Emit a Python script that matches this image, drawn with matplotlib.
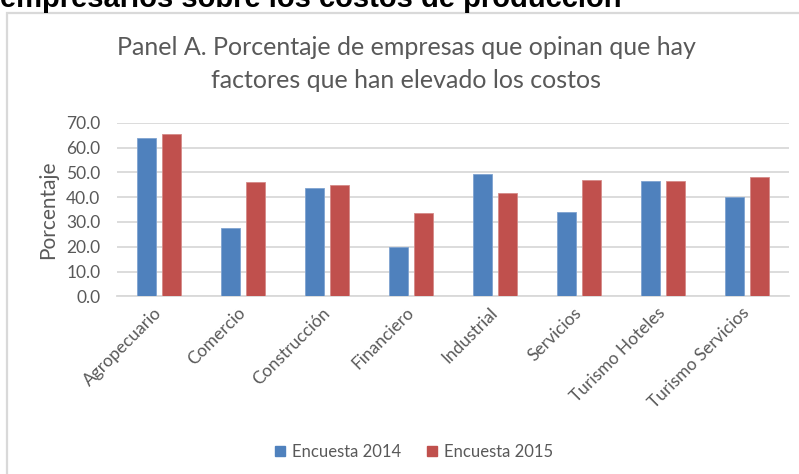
import matplotlib.pyplot as plt
import matplotlib.patches as mpatches
import numpy as np

categories = ["Agropecuario", "Comercio", "Construcción", "Financiero",
              "Industrial", "Servicios", "Turismo Hoteles", "Turismo Servicios"]
encuesta_2014 = [63.7, 27.4, 43.7, 20.0, 49.4, 33.9, 46.5, 40.2]
encuesta_2015 = [65.3, 46.1, 44.9, 33.5, 41.6, 46.9, 46.5, 48.1]
series_labels = ["Encuesta 2014", "Encuesta 2015"]
yticks = [0, 10, 20, 30, 40, 50, 60, 70]

BLUE = "#4F81BD"
RED = "#C0504D"
GRAY_TXT = "#595959"
GRID = "#D9D9D9"
FONT = "Lato"

W, H = 799, 474
fig = plt.figure(figsize=(W / 100, H / 100), dpi=100)

# outer chart frame (runs off right/bottom edge)
frame = mpatches.Rectangle((7 / W, -0.05), 1.0, 1 - 13 / H + 0.05,
                           transform=fig.transFigure, fill=False,
                           edgecolor=GRID, linewidth=1.6, clip_on=False)
fig.patches.append(frame)

# heading from the document above the chart, cropped at the top like the source
fig.text(0.0, 1 - 7 / H, "empresarios sobre los costos de producción",
         family="Liberation Sans", fontweight="bold", fontsize=21,
         ha="left", va="baseline", color="black")

# chart title
fig.text(406 / W, 1 - 64 / H,
         "Panel A. Porcentaje de empresas que opinan que hay\nfactores que han elevado los costos",
         family=FONT, fontsize=18, color=GRAY_TXT, ha="center", va="center",
         linespacing=1.55)

ax = fig.add_axes([117 / W, 1 - 296.3 / H, 672 / W, (296.3 - 122.7) / H])

x = np.arange(len(categories))
bw = 0.225
off = 0.145
ax.bar(x - off, encuesta_2014, bw, color=BLUE, edgecolor="#7FA3D0", linewidth=0.6,
       label=series_labels[0], zorder=3)
ax.bar(x + off, encuesta_2015, bw, color=RED, edgecolor="#D58A88", linewidth=0.6,
       label=series_labels[1], zorder=3)

ax.set_xlim(-0.5, len(categories) - 0.5)
ax.set_ylim(0, 70)
ax.set_yticks(yticks)
ax.set_yticklabels([f"{v:.1f}" for v in yticks], family=FONT, fontsize=12.5,
                   color=GRAY_TXT)
ax.yaxis.grid(True, color=GRID, linewidth=1.3, zorder=0)
ax.set_axisbelow(True)
for s in ["top", "right", "left"]:
    ax.spines[s].set_visible(False)
ax.spines["bottom"].set_color(GRID)
ax.spines["bottom"].set_linewidth(1.3)
ax.tick_params(axis="both", length=0)
ax.tick_params(axis="y", pad=12)

ax.set_xticks(x)
ax.set_xticklabels(categories, rotation=45, ha="right", va="center",
                   rotation_mode="anchor", family=FONT, fontsize=12.5,
                   color=GRAY_TXT)
ax.tick_params(axis="x", pad=10)

ax.set_ylabel("Porcentaje", family=FONT, fontsize=15, color=GRAY_TXT, labelpad=6)

handles = [mpatches.Patch(color=BLUE), mpatches.Patch(color=RED)]
fig.legend(handles, series_labels, loc="center", bbox_to_anchor=(414 / W, 1 - 452 / H),
           ncol=2, frameon=False, prop={"family": FONT, "size": 12},
           labelcolor=GRAY_TXT, handlelength=0.6, handleheight=0.6,
           handletextpad=0.4, columnspacing=1.6)

fig.savefig("out.png", dpi=100)
